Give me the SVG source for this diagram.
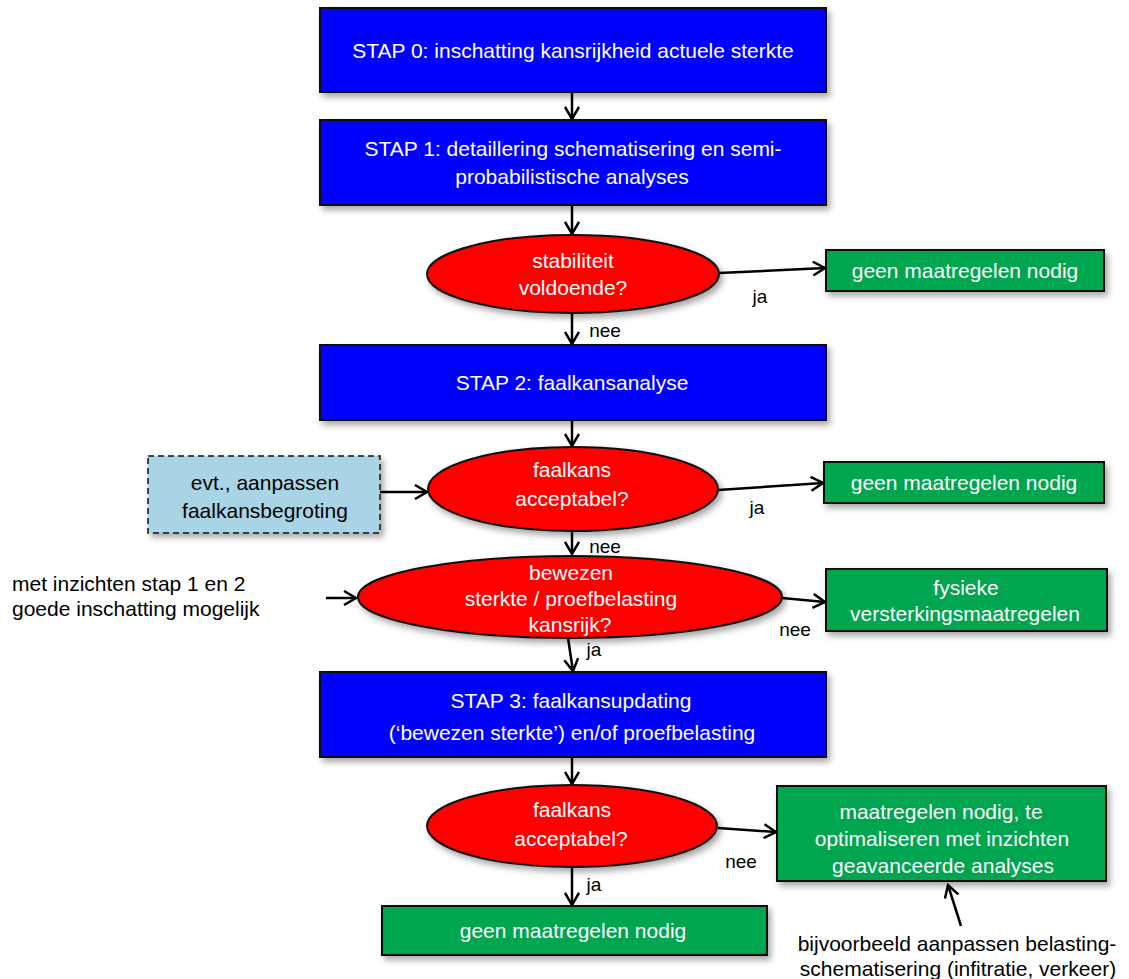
<svg xmlns="http://www.w3.org/2000/svg" width="1129" height="979" viewBox="0 0 1129 979">
<style>
text{font-family:"Liberation Sans",Arial,sans-serif;font-size:21px;text-anchor:middle}
.w{fill:#fff}
.k{fill:#000}
.l{font-size:19px}
.blue{fill:#0000ff;stroke:#111;stroke-width:2}
.red{fill:#ff0000;stroke:#111;stroke-width:2}
.green{fill:#00a550;stroke:#111;stroke-width:2}
.lb{fill:#a8d4e6;stroke:#111;stroke-width:1.5;stroke-dasharray:6 4}
.c{fill:none;stroke:#000;stroke-width:2.5}
</style>
<defs>
<filter id="sh" x="-10%" y="-10%" width="130%" height="140%">
<feDropShadow dx="3" dy="4" stdDeviation="3" flood-color="#000" flood-opacity="0.35"/>
</filter>
<marker id="a" viewBox="0 0 16 16" refX="14" refY="8" markerWidth="16" markerHeight="16" markerUnits="userSpaceOnUse" orient="auto">
<path d="M2,1 L14,8 L2,15" fill="none" stroke="#000" stroke-width="2.5"/>
</marker>
</defs>
<g id="connectors">
<line class="c" x1="572" y1="92" x2="572" y2="119" marker-end="url(#a)"/>
<line class="c" x1="572" y1="205" x2="572" y2="234" marker-end="url(#a)"/>
<line class="c" x1="719" y1="273" x2="825" y2="268" marker-end="url(#a)"/>
<line class="c" x1="572" y1="313" x2="572" y2="344" marker-end="url(#a)"/>
<line class="c" x1="572" y1="420" x2="572" y2="446" marker-end="url(#a)"/>
<line class="c" x1="380" y1="492" x2="427" y2="492" marker-end="url(#a)"/>
<line class="c" x1="718" y1="490" x2="823" y2="483" marker-end="url(#a)"/>
<line class="c" x1="572" y1="532" x2="572" y2="554" marker-end="url(#a)"/>
<line class="c" x1="326" y1="598" x2="356" y2="598" marker-end="url(#a)"/>
<line class="c" x1="782" y1="598" x2="825" y2="602" marker-end="url(#a)"/>
<line class="c" x1="568" y1="638" x2="573" y2="671" marker-end="url(#a)"/>
<line class="c" x1="572" y1="757" x2="572" y2="784" marker-end="url(#a)"/>
<line class="c" x1="718" y1="828" x2="776" y2="832" marker-end="url(#a)"/>
<line class="c" x1="572" y1="868" x2="572" y2="905" marker-end="url(#a)"/>
<line class="c" x1="961" y1="926" x2="948" y2="885" marker-end="url(#a)"/>
</g>
<g id="labels" class="k">
<text class="l" x="760" y="303">ja</text>
<text class="l" x="605" y="337">nee</text>
<text class="l" x="757" y="514">ja</text>
<text class="l" x="605" y="553">nee</text>
<text class="l" x="795" y="636">nee</text>
<text class="l" x="594" y="656">ja</text>
<text class="l" x="741" y="868">nee</text>
<text class="l" x="594" y="891">ja</text>
</g>
<g id="stap0">
<rect class="blue" x="320" y="8" width="506" height="84" filter="url(#sh)"/>
<text class="w" x="573" y="58">STAP 0: inschatting kansrijkheid actuele sterkte</text>
</g>
<g id="stap1">
<rect class="blue" x="320" y="120" width="506" height="85" filter="url(#sh)"/>
<text class="w" x="573" y="156">STAP 1: detaillering schematisering en semi-</text>
<text class="w" x="572" y="184">probabilistische analyses</text>
</g>
<g id="stabiliteit">
<ellipse class="red" cx="573" cy="274" rx="146" ry="39" filter="url(#sh)"/>
<text class="w" x="573" y="268">stabiliteit</text>
<text class="w" x="573" y="295">voldoende?</text>
</g>
<g id="geen1">
<rect class="green" x="826" y="250" width="278" height="41" filter="url(#sh)"/>
<text class="w" x="965" y="278">geen maatregelen nodig</text>
</g>
<g id="stap2">
<rect class="blue" x="320" y="345" width="506" height="75" filter="url(#sh)"/>
<text class="w" x="572" y="390">STAP 2: faalkansanalyse</text>
</g>
<g id="begroting">
<rect class="lb" x="148" y="456" width="232" height="77" filter="url(#sh)"/>
<text class="k" x="265" y="490">evt., aanpassen</text>
<text class="k" x="265" y="518">faalkansbegroting</text>
</g>
<g id="faalkans1">
<ellipse class="red" cx="573" cy="489" rx="145" ry="42" filter="url(#sh)"/>
<text class="w" x="572" y="477">faalkans</text>
<text class="w" x="572" y="506">acceptabel?</text>
</g>
<g id="geen2">
<rect class="green" x="824" y="462" width="280" height="41" filter="url(#sh)"/>
<text class="w" x="964" y="490">geen maatregelen nodig</text>
</g>
<g id="inzichten">
<text class="k" x="12" y="591" style="text-anchor:start">met inzichten stap 1 en 2</text>
<text class="k" x="12" y="616" style="text-anchor:start">goede inschatting mogelijk</text>
</g>
<g id="bewezen">
<ellipse class="red" cx="570" cy="597" rx="212" ry="41" filter="url(#sh)"/>
<text class="w" x="571" y="580">bewezen</text>
<text class="w" x="571" y="606">sterkte / proefbelasting</text>
<text class="w" x="570" y="632">kansrijk?</text>
</g>
<g id="fysieke">
<rect class="green" x="826" y="569" width="281" height="62" filter="url(#sh)"/>
<text class="w" x="966" y="595">fysieke</text>
<text class="w" x="965" y="621">versterkingsmaatregelen</text>
</g>
<g id="stap3">
<rect class="blue" x="320" y="672" width="506" height="85" filter="url(#sh)"/>
<text class="w" x="571" y="708">STAP 3: faalkansupdating</text>
<text class="w" x="572" y="740">(‘bewezen sterkte’) en/of proefbelasting</text>
</g>
<g id="faalkans2">
<ellipse class="red" cx="572" cy="826" rx="145" ry="41" filter="url(#sh)"/>
<text class="w" x="572" y="817">faalkans</text>
<text class="w" x="571" y="846">acceptabel?</text>
</g>
<g id="optimaliseren">
<rect class="green" x="777" y="786" width="329" height="95" filter="url(#sh)"/>
<text class="w" x="941" y="819">maatregelen nodig, te</text>
<text class="w" x="942" y="846">optimaliseren met inzichten</text>
<text class="w" x="943" y="873">geavanceerde analyses</text>
</g>
<g id="geen3">
<rect class="green" x="382" y="906" width="385" height="49" filter="url(#sh)"/>
<text class="w" x="573" y="938">geen maatregelen nodig</text>
</g>
<g id="bijvoorbeeld">
<text class="k" x="957" y="951">bijvoorbeeld aanpassen belasting-</text>
<text class="k" x="958" y="976">schematisering (infitratie, verkeer)</text>
</g>
</svg>
